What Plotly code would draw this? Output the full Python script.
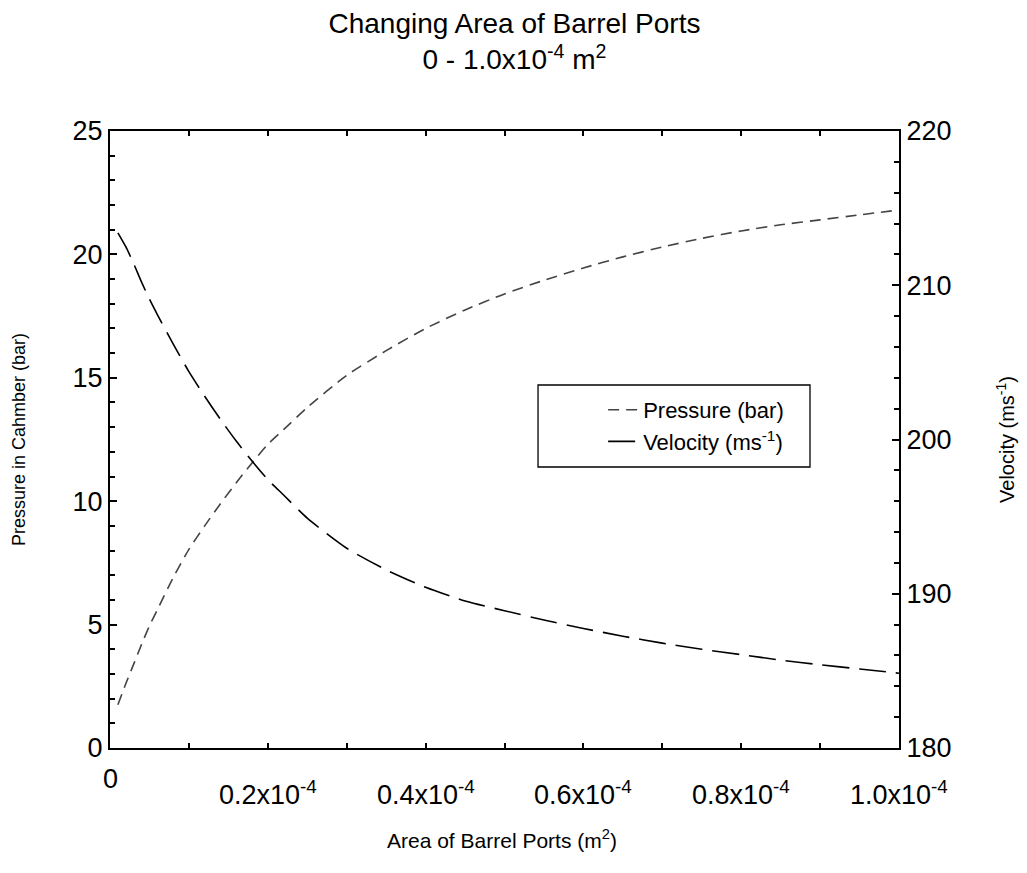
import plotly.graph_objects as go

# Data (area in m^2)
area = [0.01e-4, 0.02e-4, 0.03e-4, 0.04e-4, 0.05e-4, 0.06e-4, 0.08e-4, 0.10e-4, 0.12e-4,
        0.14e-4, 0.16e-4, 0.18e-4, 0.20e-4, 0.22e-4, 0.25e-4, 0.30e-4, 0.35e-4, 0.40e-4,
        0.45e-4, 0.50e-4, 0.55e-4, 0.60e-4, 0.65e-4, 0.70e-4, 0.75e-4, 0.80e-4, 0.85e-4,
        0.90e-4, 0.95e-4, 1.00e-4]
pressure = [1.75, 2.6, 3.4, 4.2, 4.95, 5.6, 6.9, 8.05, 9.0,
            9.9, 10.75, 11.55, 12.3, 12.9, 13.8, 15.1, 16.1, 17.0,
            17.75, 18.4, 18.95, 19.45, 19.9, 20.3, 20.65, 20.95, 21.2,
            21.4, 21.6, 21.8]
velocity = [213.4, 212.5, 211.4, 210.2, 209.1, 208.1, 206.2, 204.4, 202.8,
            201.3, 199.9, 198.6, 197.4, 196.4, 194.9, 192.95, 191.55, 190.42,
            189.53, 188.9, 188.3, 187.75, 187.25, 186.8, 186.4, 186.05, 185.7,
            185.4, 185.12, 184.85]

xtick_vals = [0, 0.2e-4, 0.4e-4, 0.6e-4, 0.8e-4, 1.0e-4]
xtick_text = ["0", "0.2x10<sup>-4</sup>", "0.4x10<sup>-4</sup>", "0.6x10<sup>-4</sup>",
              "0.8x10<sup>-4</sup>", "1.0x10<sup>-4</sup>"]

FONT = "Liberation Sans, Arial, sans-serif"

fig = go.Figure()
fig.add_trace(go.Scatter(x=area, y=pressure, mode="lines", name="Pressure (bar)",
                         line=dict(color="#444444", width=1.6, dash="11px,7px",
                                   shape="spline", smoothing=0.6)))
fig.add_trace(go.Scatter(x=area, y=velocity, mode="lines", name="Velocity (ms<sup>-1</sup>)",
                         yaxis="y2",
                         line=dict(color="#000000", width=1.6, dash="27px,10px",
                                   shape="spline", smoothing=0.6)))

fig.update_layout(
    width=1019, height=865,
    paper_bgcolor="white", plot_bgcolor="white",
    margin=dict(l=102, r=128, t=123, b=125, autoexpand=False),
    font=dict(family=FONT, color="black"),
    title=dict(text="Changing Area of Barrel Ports<br>0 - 1.0x10<sup>-4</sup> m<sup>2</sup>",
               x=0.497, xanchor="center", y=0.971, yanchor="top",
               font=dict(size=28, family=FONT)),
    xaxis=dict(range=[0, 1.0e-4], dtick=0.1e-4, tick0=0, showticklabels=False,
               ticks="inside", ticklen=5, tickwidth=1.5, tickcolor="black",
               showline=True, linewidth=2, linecolor="black", mirror="ticks",
               showgrid=False, zeroline=False),
    yaxis=dict(range=[0, 25], dtick=5, ticks="inside", ticklen=7, tickwidth=1.5,
               tickcolor="black", showline=True, linewidth=2, linecolor="black",
               showgrid=False, zeroline=False, automargin=False,
               tickfont=dict(size=27, family=FONT),
               minor=dict(dtick=1, ticks="inside", ticklen=5, tickwidth=1.5, tickcolor="black"),
               title=dict(text="Pressure in Cahmber (bar)", font=dict(size=18, family=FONT),
                          standoff=42)),
    yaxis2=dict(range=[180, 220], dtick=10, overlaying="y", side="right",
                ticks="inside", ticklen=7, tickwidth=1.5, tickcolor="black",
                showline=True, linewidth=2, linecolor="black",
                showgrid=False, zeroline=False, automargin=False,
                tickfont=dict(size=27, family=FONT),
                minor=dict(dtick=2, ticks="inside", ticklen=5, tickwidth=1.5, tickcolor="black"),
                title=dict(text="Velocity (ms<sup>-1</sup>)", font=dict(size=20, family=FONT),
                           standoff=50)),
    legend=dict(x=0.625, y=0.522, xanchor="left", yanchor="middle",
                bgcolor="rgba(0,0,0,0)", borderwidth=0,
                font=dict(size=22, family=FONT), tracegroupgap=0),
    showlegend=True,
)

# Legend frame
fig.add_shape(type="rect", xref="paper", yref="paper",
              x0=0.5425, x1=0.8872, y0=0.4554, y1=0.5883,
              line=dict(color="black", width=1.3), fillcolor="white", layer="below")

# X tick labels
for v, t in zip(xtick_vals, xtick_text):
    fig.add_annotation(x=v, y=0, xref="x", yref="paper", text=t, showarrow=False,
                       xanchor="center", yanchor="top",
                       yshift=-14 if v == 0 else -26,
                       font=dict(size=27, family=FONT))

# X axis title
fig.add_annotation(x=0.497, y=0, xref="paper", yref="paper", yanchor="top", yshift=-76,
                   text="Area of Barrel Ports (m<sup>2</sup>)", showarrow=False,
                   font=dict(size=21, family=FONT))

fig.write_html("out.html")
